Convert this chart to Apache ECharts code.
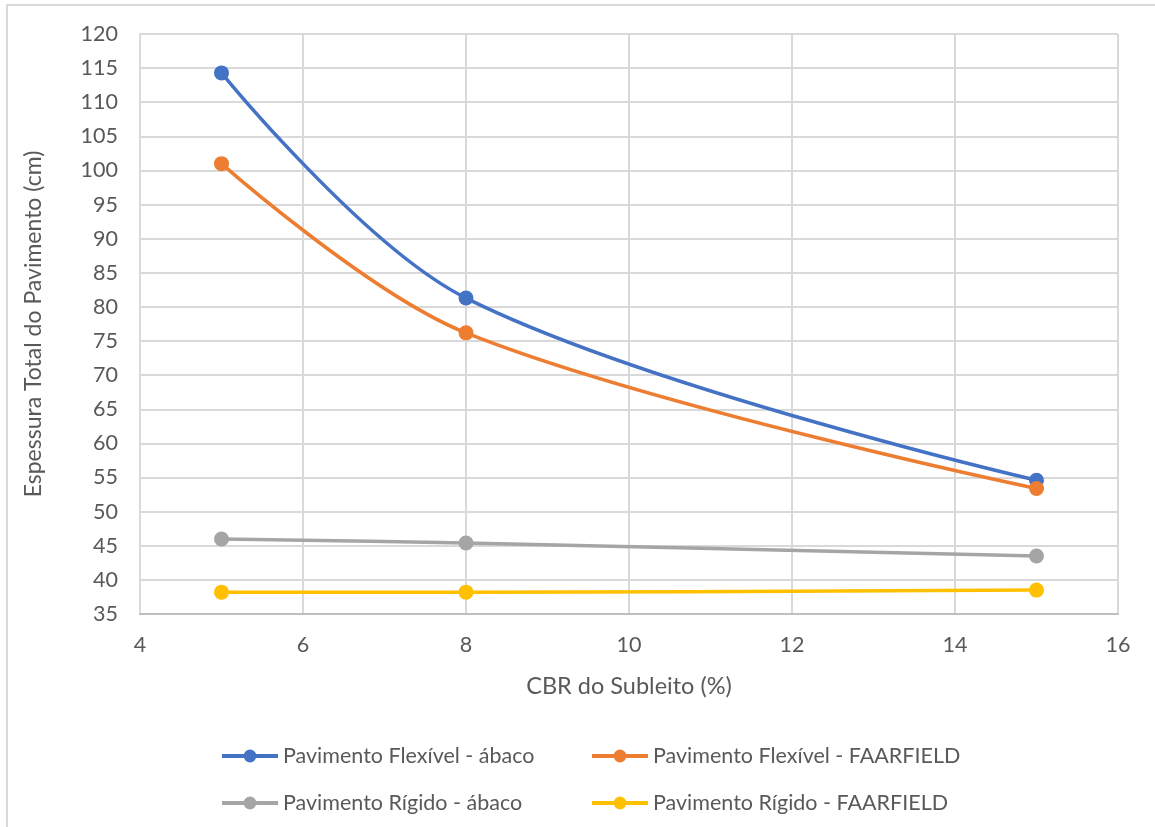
<!DOCTYPE html>
<html>
<head>
<meta charset="utf-8">
<script src="https://cdn.jsdelivr.net/npm/echarts@6/dist/echarts.min.js"></script>
<style>
  html, body { margin: 0; padding: 0; background: #fff; }
  #chart { width: 1155px; height: 827px; }
</style>
</head>
<body>
<div id="chart"></div>
<script>
// CBR do subleito (%)
const cbr = [5, 8, 15];

// Espessura total do pavimento (cm) por método
const flexivelAbaco = [114.3, 81.3, 54.6];
const flexivelFaarfield = [101.0, 76.2, 53.4];
const rigidoAbaco = [46.0, 45.4, 43.5];
const rigidoFaarfield = [38.2, 38.2, 38.5];

const seriesNames = [
  'Pavimento Flexível - ábaco',
  'Pavimento Flexível - FAARFIELD',
  'Pavimento Rígido - ábaco',
  'Pavimento Rígido - FAARFIELD'
];
const seriesValues = [flexivelAbaco, flexivelFaarfield, rigidoAbaco, rigidoFaarfield];
const seriesColors = ['#4472C4', '#ED7D31', '#A5A5A5', '#FFC000'];

const FONT = 'Lato';
const TEXT = '#595959';
const GRID = '#d9d9d9';

const chart = echarts.init(document.getElementById('chart'), null, { renderer: 'canvas' });

const legendBase = {
  orient: 'vertical',
  top: 745,
  padding: 0,
  itemWidth: 56, itemHeight: 16, itemGap: 25,
  lineStyle: { width: 4 },
  textStyle: { fontFamily: FONT, fontSize: 21.5, color: TEXT }
};

chart.setOption({
  backgroundColor: '#ffffff',
  animation: false,
  graphic: [{
    type: 'rect',
    shape: { x: 7, y: 5, width: 1200, height: 900 },
    style: { fill: 'none', stroke: GRID, lineWidth: 2 },
    silent: true
  }],
  grid: { left: 140, right: 37, top: 34, bottom: 213, containLabel: false },
  xAxis: {
    type: 'value',
    min: 4, max: 16, interval: 2,
    name: 'CBR do Subleito (%)',
    nameLocation: 'middle',
    nameGap: 60,
    nameTextStyle: { fontFamily: FONT, fontSize: 23.5, color: TEXT },
    axisLine: { show: true, lineStyle: { color: '#bfbfbf', width: 2 } },
    axisTick: { show: false },
    axisLabel: { fontFamily: FONT, fontSize: 21.5, color: TEXT, margin: 20 },
    splitLine: { show: true, lineStyle: { color: GRID, width: 2 } }
  },
  yAxis: {
    type: 'value',
    min: 35, max: 120, interval: 5,
    name: 'Espessura Total do Pavimento (cm)',
    nameLocation: 'middle',
    nameGap: 95,
    nameRotate: 90,
    nameTextStyle: { fontFamily: FONT, fontSize: 23, color: TEXT },
    axisLine: { show: true, lineStyle: { color: GRID, width: 2 } },
    axisTick: { show: false },
    axisLabel: { fontFamily: FONT, fontSize: 21.5, color: TEXT, margin: 22 },
    splitLine: { show: true, lineStyle: { color: GRID, width: 2 } }
  },
  legend: [
    Object.assign({ left: 220, data: [seriesNames[0], seriesNames[2]] }, legendBase),
    Object.assign({ left: 590, data: [seriesNames[1], seriesNames[3]] }, legendBase)
  ],
  series: seriesNames.map((name, i) => ({
    name: name,
    type: 'line',
    smooth: 0.35,
    symbol: 'circle',
    symbolSize: 15,
    color: seriesColors[i],
    lineStyle: { width: 3.5, color: seriesColors[i] },
    itemStyle: { color: seriesColors[i] },
    data: cbr.map((x, j) => [x, seriesValues[i][j]])
  }))
});
</script>
</body>
</html>
